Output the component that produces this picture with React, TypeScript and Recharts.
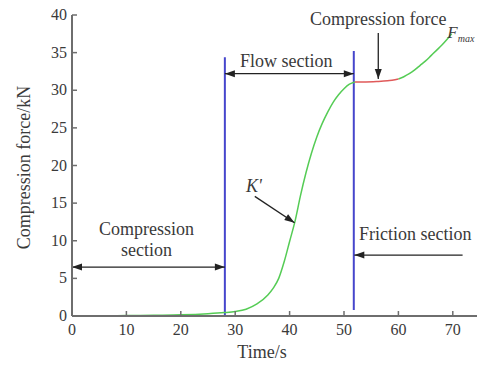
import {
  LineChart,
  Line,
  XAxis,
  YAxis,
  ReferenceLine,
  ReferenceDot,
} from "recharts";

const timeS = [
  0, 5, 10, 15, 20, 25, 28, 30, 32, 34, 36, 37, 38, 39, 40, 41, 42, 43, 44, 45,
  46, 47, 48, 49, 50, 51, 52, 54, 56, 58, 60, 61, 62, 63, 64, 65, 66, 67, 68,
  69, 69.8,
];
const forceKN = [
  0, 0, 0.05, 0.1, 0.15, 0.3, 0.45, 0.6, 0.9, 1.6, 2.8, 3.7, 5.0, 7.2, 9.9,
  12.6, 16.0, 19.0, 21.6, 23.8, 25.6, 27.1, 28.4, 29.4, 30.2, 30.8, 31.1, 31.1,
  31.15, 31.25, 31.5, 31.8, 32.2, 32.7, 33.3, 33.9, 34.6, 35.3, 36.0, 36.8,
  37.5,
];
// red part of the curve (the compression force plateau)
const plateauStart = 52;
const plateauEnd = 60;

const xTicks = [0, 10, 20, 30, 40, 50, 60, 70];
const yTicks = [0, 5, 10, 15, 20, 25, 30, 35, 40];

// section boundaries (time, bottom, top)
const boundaries = [
  { t: 28.1, from: 0, to: 34.4 },
  { t: 51.8, from: 0.8, to: 35.2 },
];

const arrows = [
  { from: [56.3, 37.6], to: [56.3, 31.5], both: false },
  { from: [28.1, 32.2], to: [51.8, 32.2], both: true },
  { from: [0, 6.5], to: [28.1, 6.5], both: true },
  { from: [33.6, 15.9], to: [40.9, 12.4], both: false },
  { from: [71.8, 8.1], to: [51.9, 8.1], both: false },
];

const notes = [
  { t: 56.3, v: 38.7, text: "Compression force" },
  { t: 39.4, v: 33.15, text: "Flow section" },
  { t: 13.7, v: 10.8, text: "Compression" },
  { t: 13.7, v: 8.0, text: "section" },
  { t: 63.1, v: 10.1, text: "Friction section" },
];

const data = timeS.map((t, i) => ({
  t,
  green: t <= plateauStart || t >= plateauEnd ? forceKN[i] : null,
  red: t >= plateauStart && t <= plateauEnd ? forceKN[i] : null,
}));

const AXIS = "#6e6e6e";
const TEXT = "#3a3a3a";
const FONT = "'Liberation Serif', 'DejaVu Serif', serif";

function YTick(props: any) {
  const { x, y, payload } = props;
  return (
    <g>
      <line x1={x + 5} x2={x + 10} y1={y} y2={y} stroke={AXIS} strokeWidth={1.5} />
      <text x={x} y={y + 5} textAnchor="end" fontSize={16} fill={TEXT} fontFamily={FONT}>
        {payload.value}
      </text>
    </g>
  );
}

function XTick(props: any) {
  const { x, y, payload } = props;
  return (
    <g>
      <line x1={x} x2={x} y1={y} y2={y - 5} stroke={AXIS} strokeWidth={1.5} />
      <text x={x} y={y + 19} textAnchor="middle" fontSize={16} fill={TEXT} fontFamily={FONT}>
        {payload.value}
      </text>
    </g>
  );
}

function head(x: number, y: number, fx: number, fy: number) {
  const dx = x - fx;
  const dy = y - fy;
  const len = Math.hypot(dx, dy) || 1;
  const ux = dx / len;
  const uy = dy / len;
  const L = 10;
  const W = 3.5;
  const bx = x - ux * L;
  const by = y - uy * L;
  return `${x},${y} ${bx - uy * W},${by + ux * W} ${bx + uy * W},${by - ux * W}`;
}

function Arrow(props: any) {
  const { x1, y1, x2, y2, both } = props;
  return (
    <g>
      <line x1={x1} y1={y1} x2={x2} y2={y2} stroke="#222" strokeWidth={1.3} />
      <polygon points={head(x2, y2, x1, y1)} fill="#222" />
      {both && <polygon points={head(x1, y1, x2, y2)} fill="#222" />}
    </g>
  );
}

export default function App() {
  return (
    <div style={{ position: "absolute", left: 0, top: 0, width: 477, height: 365, overflow: "hidden", background: "#fff" }}>
      <LineChart
        width={480}
        height={365}
        data={data}
        margin={{ top: 15, right: 0, bottom: 0, left: 0 }}
      >
        <XAxis
          dataKey="t"
          type="number"
          domain={[0, 75]}
          ticks={xTicks}
          height={49}
          tickSize={0}
          tickMargin={0}
          tickLine={false}
          tick={<XTick />}
          axisLine={{ stroke: AXIS, strokeWidth: 2 }}
          label={(p: any) => {
            const vb = p.viewBox;
            return (
              <text x={262} y={vb.y + 42} textAnchor="middle" fontSize={18} fill={TEXT} fontFamily={FONT}>
                Time/s
              </text>
            );
          }}
        />
        <YAxis
          type="number"
          domain={[0, 40]}
          ticks={yTicks}
          width={72}
          tickSize={0}
          tickMargin={5}
          tickLine={false}
          tick={<YTick />}
          axisLine={{ stroke: AXIS, strokeWidth: 2 }}
          label={(p: any) => {
            const vb = p.viewBox;
            const cx = 30;
            const cy = vb.y + vb.height / 2 + 2;
            return (
              <text
                x={cx}
                y={cy}
                transform={`rotate(-90 ${cx} ${cy})`}
                textAnchor="middle"
                fontSize={18}
                fill={TEXT}
                fontFamily={FONT}
              >
                Compression force/kN
              </text>
            );
          }}
        />
        {boundaries.map((b, i) => (
          <ReferenceLine
            key={`b${i}`}
            segment={[
              { x: b.t, y: b.from },
              { x: b.t, y: b.to },
            ]}
            stroke="#4646cc"
            strokeWidth={2}
            ifOverflow="visible"
          />
        ))}
        <Line
          type="monotone"
          dataKey="green"
          stroke="#55cc55"
          strokeWidth={1.5}
          dot={false}
          isAnimationActive={false}
        />
        <Line
          type="monotone"
          dataKey="red"
          stroke="#e05a5a"
          strokeWidth={1.5}
          dot={false}
          isAnimationActive={false}
        />
        {arrows.map((a, i) => (
          <ReferenceLine
            key={`a${i}`}
            segment={[
              { x: a.from[0], y: a.from[1] },
              { x: a.to[0], y: a.to[1] },
            ]}
            ifOverflow="visible"
            shape={(p: any) => <Arrow {...p} both={a.both} />}
          />
        ))}
        {notes.map((n, i) => (
          <ReferenceDot
            key={`n${i}`}
            x={n.t}
            y={n.v}
            r={0}
            ifOverflow="visible"
            shape={(p: any) => (
              <text x={p.cx} y={p.cy} textAnchor="middle" fontSize={18} fill={TEXT} fontFamily={FONT}>
                {n.text}
              </text>
            )}
          />
        ))}
        <ReferenceDot
          x={32}
          y={16.5}
          r={0}
          ifOverflow="visible"
          shape={(p: any) => (
            <text x={p.cx} y={p.cy} fontSize={18} fontStyle="italic" fill={TEXT} fontFamily={FONT}>
              K'
            </text>
          )}
        />
        <ReferenceDot
          x={69}
          y={36.9}
          r={0}
          ifOverflow="visible"
          shape={(p: any) => (
            <text x={p.cx} y={p.cy} fontSize={17} fontStyle="italic" fill={TEXT} fontFamily={FONT}>
              F
              <tspan fontSize={10} dy={4}>
                max
              </tspan>
            </text>
          )}
        />
      </LineChart>
    </div>
  );
}
